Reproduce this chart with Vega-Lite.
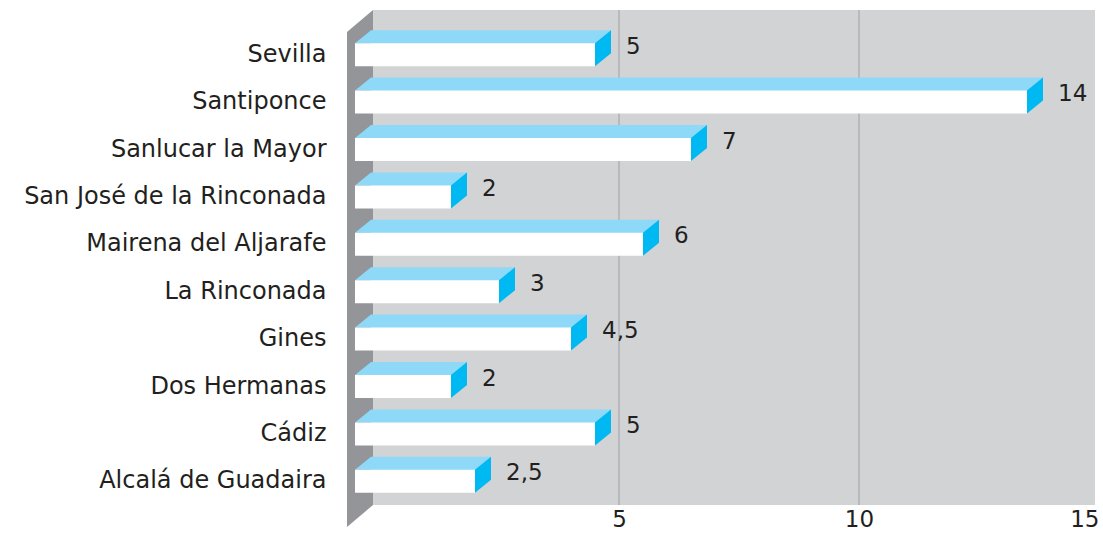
{
  "$schema": "https://vega.github.io/schema/vega-lite/v6.json",
  "autosize": "none",
  "width": 720,
  "height": 474,
  "padding": {"left": 355, "top": 31, "right": 28, "bottom": 33},
  "background": "#ffffff",
  "config": {
    "view": {"stroke": null},
    "font": "DejaVu Sans",
    "locale": {"number": {"decimal": ",", "thousands": ".", "grouping": [3], "currency": ["", " €"]}}
  },
  "datasets": {
    "main": [
      {"municipio": "Sevilla", "valor": 5},
      {"municipio": "Santiponce", "valor": 14},
      {"municipio": "Sanlucar la Mayor", "valor": 7},
      {"municipio": "San José de la Rinconada", "valor": 2},
      {"municipio": "Mairena del Aljarafe", "valor": 6},
      {"municipio": "La Rinconada", "valor": 3},
      {"municipio": "Gines", "valor": 4.5},
      {"municipio": "Dos Hermanas", "valor": 2},
      {"municipio": "Cádiz", "valor": 5},
      {"municipio": "Alcalá de Guadaira", "valor": 2.5}
    ],
    "grid": [{"v": 5}, {"v": 10}]
  },
  "resolve": {"scale": {"x": "shared", "y": "shared"}},
  "layer": [
    {
      "data": {"values": [{"from": 0, "to": 15}]},
      "mark": {"type": "rect", "color": "#d1d3d4", "xOffset": 18, "x2Offset": 20, "yOffset": -21, "y2Offset": 0},
      "encoding": {
        "x": {"field": "from", "type": "quantitative", "scale": {"domain": [0, 15], "nice": false, "zero": true},
          "axis": {"values": [5, 10, 15], "labelOffset": 24, "labelFlush": true, "domain": false, "ticks": false, "grid": false, "title": null, "labelFontSize": 23, "labelColor": "#231f20", "labelPadding": 3, "labelFont": "DejaVu Sans"}},
        "x2": {"field": "to"}
      }
    },
    {
      "data": {"name": "grid"},
      "mark": {"type": "rule", "color": "#a7a9ac", "strokeWidth": 1.2, "xOffset": 24, "yOffset": -21, "y2Offset": 0},
      "encoding": {"x": {"field": "v", "type": "quantitative"}}
    },
    {
      "data": {"values": [{"origen": 0}]},
      "mark": {"type": "point", "filled": true, "opacity": 1, "size": 4, "strokeWidth": 0, "color": "#939598",
        "shape": "M -8 -236 L 18 -258 L 18 237 L -8 259 Z"},
      "encoding": {"x": {"field": "origen", "type": "quantitative"}}
    },
    {
      "data": {"name": "main"},
      "layer": [
        {
          "mark": {"type": "bar", "color": "#8ed8f8", "xOffset": 16, "x2Offset": 16, "yOffset": -13},
          "encoding": {
            "x": {"field": "valor", "type": "quantitative"},
            "y": {"field": "municipio", "type": "nominal", "sort": null,
              "scale": {"paddingInner": 0.515, "paddingOuter": 0.2575},
              "axis": {"domain": false, "ticks": false, "title": null, "labelFontSize": 24, "labelColor": "#231f20", "labelPadding": 29, "labelLimit": 400, "labelFont": "DejaVu Sans"}}
          }
        },
        {
          "mark": {"type": "point", "filled": true, "opacity": 1, "size": 4, "strokeWidth": 0, "color": "#00b9f2",
            "shape": "M 0 -11.5 L 16 -24.5 L 16 -1.5 L 0 11.5 Z"},
          "encoding": {
            "x": {"field": "valor", "type": "quantitative"},
            "y": {"field": "municipio", "type": "nominal", "sort": null}
          }
        },
        {
          "mark": {"type": "point", "filled": true, "opacity": 1, "size": 4, "strokeWidth": 0, "color": "#8ed8f8",
            "shape": "M 0 -11.5 L 16 -24.5 L 16.5 -24.5 L 16.5 -11.5 Z"},
          "encoding": {
            "x": {"datum": 0, "type": "quantitative"},
            "y": {"field": "municipio", "type": "nominal", "sort": null}
          }
        },
        {
          "mark": {"type": "bar", "color": "#ffffff"},
          "encoding": {
            "x": {"field": "valor", "type": "quantitative"},
            "y": {"field": "municipio", "type": "nominal", "sort": null}
          }
        },
        {
          "mark": {"type": "text", "align": "left", "baseline": "middle", "dx": 31, "dy": -8, "fontSize": 23, "color": "#231f20", "font": "DejaVu Sans"},
          "encoding": {
            "x": {"field": "valor", "type": "quantitative"},
            "y": {"field": "municipio", "type": "nominal", "sort": null},
            "text": {"field": "valor", "type": "quantitative", "format": "~g"}
          }
        }
      ]
    }
  ]
}
